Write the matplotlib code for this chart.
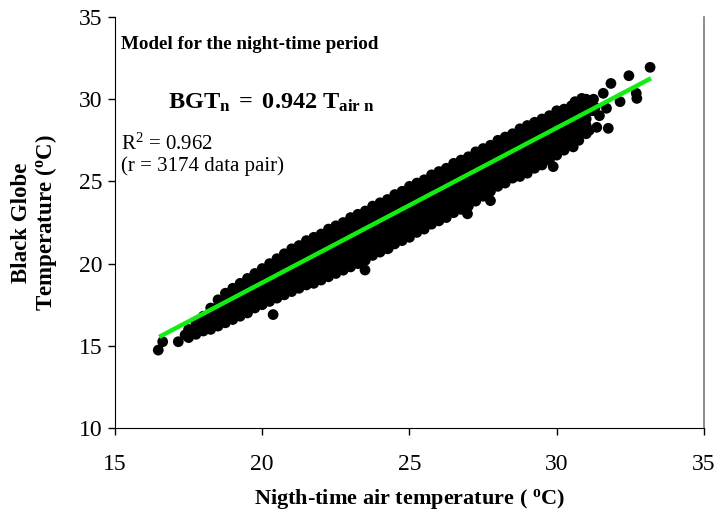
import matplotlib
matplotlib.use("Agg")
import matplotlib.pyplot as plt

plt.rcParams['font.family'] = ['Liberation Serif', 'DejaVu Serif']
plt.rcParams['mathtext.fontset'] = 'custom'
plt.rcParams['mathtext.rm'] = 'Liberation Serif'
plt.rcParams['mathtext.it'] = 'Liberation Serif:italic'
plt.rcParams['mathtext.bf'] = 'Liberation Serif:bold'

# ---- data (dense band summarised column by column) ----
band_x = [17.50, 17.75, 18.00, 18.25, 18.50, 18.75, 19.00, 19.25, 19.50, 19.75,
          20.00, 20.25, 20.50, 20.75, 21.00, 21.25, 21.50, 21.75, 22.00, 22.25,
          22.50, 22.75, 23.00, 23.25, 23.50, 23.75, 24.00, 24.25, 24.50, 24.75,
          25.00, 25.25, 25.50, 25.75, 26.00, 26.25, 26.50, 26.75, 27.00, 27.25,
          27.50, 27.75, 28.00, 28.25, 28.50, 28.75, 29.00, 29.25, 29.50, 29.75,
          30.00, 30.25, 30.50, 30.75, 31.00]
band_y = [
    [15.5, 16.0],
    [15.7, 16.1, 16.4],
    [15.9, 16.4, 16.8],
    [16.0, 16.4, 16.9, 17.3],
    [16.2, 16.6, 17.0, 17.4, 17.8],
    [16.4, 16.9, 17.3, 17.8, 18.2],
    [16.6, 17.1, 17.5, 18.0, 18.5],
    [16.8, 17.3, 17.7, 18.2, 18.6, 18.8],
    [17.0, 17.4, 17.9, 18.3, 18.8, 19.1],
    [17.3, 17.7, 18.2, 18.6, 19.1, 19.4],
    [17.5, 17.9, 18.4, 18.8, 19.3, 19.7],
    [17.7, 18.2, 18.6, 19.1, 19.5, 20.0],
    [17.9, 18.3, 18.8, 19.2, 19.7, 20.1, 20.3],
    [18.1, 18.6, 19.0, 19.5, 19.9, 20.4, 20.6],
    [18.3, 18.7, 19.2, 19.6, 20.1, 20.5, 20.9],
    [18.5, 18.9, 19.4, 19.8, 20.3, 20.7, 21.1],
    [18.7, 19.1, 19.6, 20.0, 20.5, 20.9, 21.4],
    [18.8, 19.3, 19.7, 20.2, 20.6, 21.1, 21.6],
    [19.0, 19.5, 19.9, 20.4, 20.8, 21.3, 21.8],
    [19.2, 19.6, 20.1, 20.5, 21.0, 21.4, 21.8, 22.1],
    [19.4, 19.8, 20.3, 20.7, 21.2, 21.6, 22.1, 22.3],
    [19.6, 20.0, 20.5, 20.9, 21.4, 21.8, 22.3, 22.5],
    [19.8, 20.2, 20.7, 21.1, 21.6, 22.0, 22.5, 22.8],
    [20.0, 20.4, 20.9, 21.3, 21.8, 22.2, 22.7, 23.0],
    [20.2, 20.7, 21.1, 21.6, 22.0, 22.5, 22.9, 23.2],
    [20.5, 20.9, 21.4, 21.8, 22.3, 22.7, 23.2, 23.5],
    [20.7, 21.1, 21.6, 22.0, 22.5, 22.9, 23.4, 23.7],
    [20.9, 21.4, 21.8, 22.3, 22.7, 23.2, 23.6, 23.9],
    [21.2, 21.6, 22.1, 22.5, 23.0, 23.4, 23.9, 24.2],
    [21.4, 21.8, 22.3, 22.7, 23.2, 23.6, 24.1, 24.4],
    [21.6, 22.1, 22.5, 23.0, 23.4, 23.9, 24.3, 24.7],
    [21.9, 22.3, 22.8, 23.2, 23.7, 24.1, 24.6, 24.9],
    [22.1, 22.5, 23.0, 23.4, 23.9, 24.3, 24.8, 25.1],
    [22.4, 22.8, 23.3, 23.7, 24.2, 24.6, 25.1, 25.4],
    [22.6, 23.0, 23.5, 23.9, 24.4, 24.8, 25.3, 25.6],
    [22.8, 23.3, 23.7, 24.2, 24.6, 25.1, 25.5, 25.8],
    [23.1, 23.5, 24.0, 24.4, 24.9, 25.3, 25.8, 26.1],
    [23.3, 23.7, 24.2, 24.6, 25.1, 25.5, 26.0, 26.3],
    [23.5, 24.0, 24.4, 24.9, 25.3, 25.8, 26.2, 26.5],
    [23.8, 24.2, 24.7, 25.1, 25.6, 26.0, 26.5, 26.8],
    [24.1, 24.5, 25.0, 25.4, 25.9, 26.3, 26.7, 27.0],
    [24.4, 24.8, 25.3, 25.7, 26.2, 26.6, 27.0, 27.2],
    [24.7, 25.1, 25.6, 26.0, 26.5, 26.9, 27.3, 27.5],
    [24.9, 25.4, 25.8, 26.3, 26.7, 27.2, 27.7],
    [25.2, 25.6, 26.1, 26.5, 27.0, 27.4, 27.9],
    [25.3, 25.8, 26.2, 26.7, 27.1, 27.6, 28.0, 28.2],
    [25.5, 26.0, 26.4, 26.9, 27.3, 27.8, 28.2, 28.4],
    [25.8, 26.2, 26.7, 27.1, 27.6, 28.0, 28.4, 28.6],
    [26.0, 26.4, 26.9, 27.3, 27.8, 28.2, 28.6, 28.8],
    [26.3, 26.7, 27.2, 27.6, 28.1, 28.5, 29.0],
    [26.6, 27.0, 27.5, 27.9, 28.4, 28.8, 29.3],
    [26.9, 27.3, 27.8, 28.2, 28.7, 29.1, 29.4],
    [27.2, 27.6, 28.1, 28.5, 29.0, 29.4, 29.6],
    [27.5, 28.0, 28.4, 28.9, 29.3, 29.8],
    [27.9, 28.4, 28.8, 29.3, 29.7, 30.0],
]
# isolated points at the ends and outliers
sparse_x = [16.47, 16.62, 17.15, 17.38, 20.37, 23.49, 24.28, 26.97, 27.75, 29.88,
            30.56, 31.10, 31.36, 31.75, 30.62, 30.85, 31.25, 31.58, 31.84, 31.69,
            32.15, 32.45, 32.72, 32.70, 33.17, 31.30, 31.45, 31.20]
sparse_y = [14.74, 15.25, 15.25, 15.66, 16.90, 19.61, 20.93, 23.03, 23.83, 25.90,
            27.10, 28.10, 28.29, 28.23, 29.85, 30.05, 30.00, 30.36, 30.96, 29.45,
            29.85, 31.43, 30.05, 30.36, 31.94, 29.50, 29.00, 29.30]

slope = 0.942
fit_x = [16.5, 33.2]

# ---- figure ----
fig = plt.figure(figsize=(7.15, 5.16), dpi=100)
ax = fig.add_axes([0.1608, 0.1705, 0.8238, 0.7965])

pts_x = [x for x, col in zip(band_x, band_y) for _ in col] + sparse_x
pts_y = [y for col in band_y for y in col] + sparse_y
ax.scatter(pts_x, pts_y, s=60, c='black', edgecolors='none', zorder=2)
ax.plot(fit_x, [slope * v for v in fit_x], color='#12ee12', lw=3.2,
        solid_capstyle='butt', zorder=3)

ax.set_xlim(15, 35)
ax.set_ylim(10, 35)
ax.set_xticks([15, 20, 25, 30, 35])
ax.set_yticks([10, 15, 20, 25, 30, 35])
ax.tick_params(direction='out', length=5, width=1, labelsize=17,
               top=False, right=False)
ax.tick_params(axis='x', pad=14)
ax.tick_params(axis='y', pad=4)
ax.spines['top'].set_visible(False)
ax.spines['right'].set_color('#777777')
ax.spines['right'].set_linewidth(1.2)

ax.set_xlabel('Nigth-time air temperature ( $^{\\mathbf{o}}$C)', fontsize=16,
              fontweight='bold', labelpad=8)
ax.set_ylabel('Black Globe\nTemperature ($^{\\mathbf{o}}$C)', fontsize=16.5,
              fontweight='bold', labelpad=14, linespacing=1.05)

ax.text(0.011, 0.932, 'Model for the night-time period', transform=ax.transAxes,
        fontsize=13.7, fontweight='bold', va='center', ha='left')
ax.text(0.09, 0.792, r'$\mathbf{BGT_{n}\ =\ 0.942\ T_{air\ n}}$', transform=ax.transAxes,
        fontsize=17.5, va='center', ha='left')
ax.text(0.011, 0.69, 'R$^{2}$ = 0.962', transform=ax.transAxes,
        fontsize=15, va='center', ha='left')
ax.text(0.011, 0.638, '(r = 3174 data pair)', transform=ax.transAxes,
        fontsize=15, va='center', ha='left')

fig.savefig('out.png', dpi=100)
